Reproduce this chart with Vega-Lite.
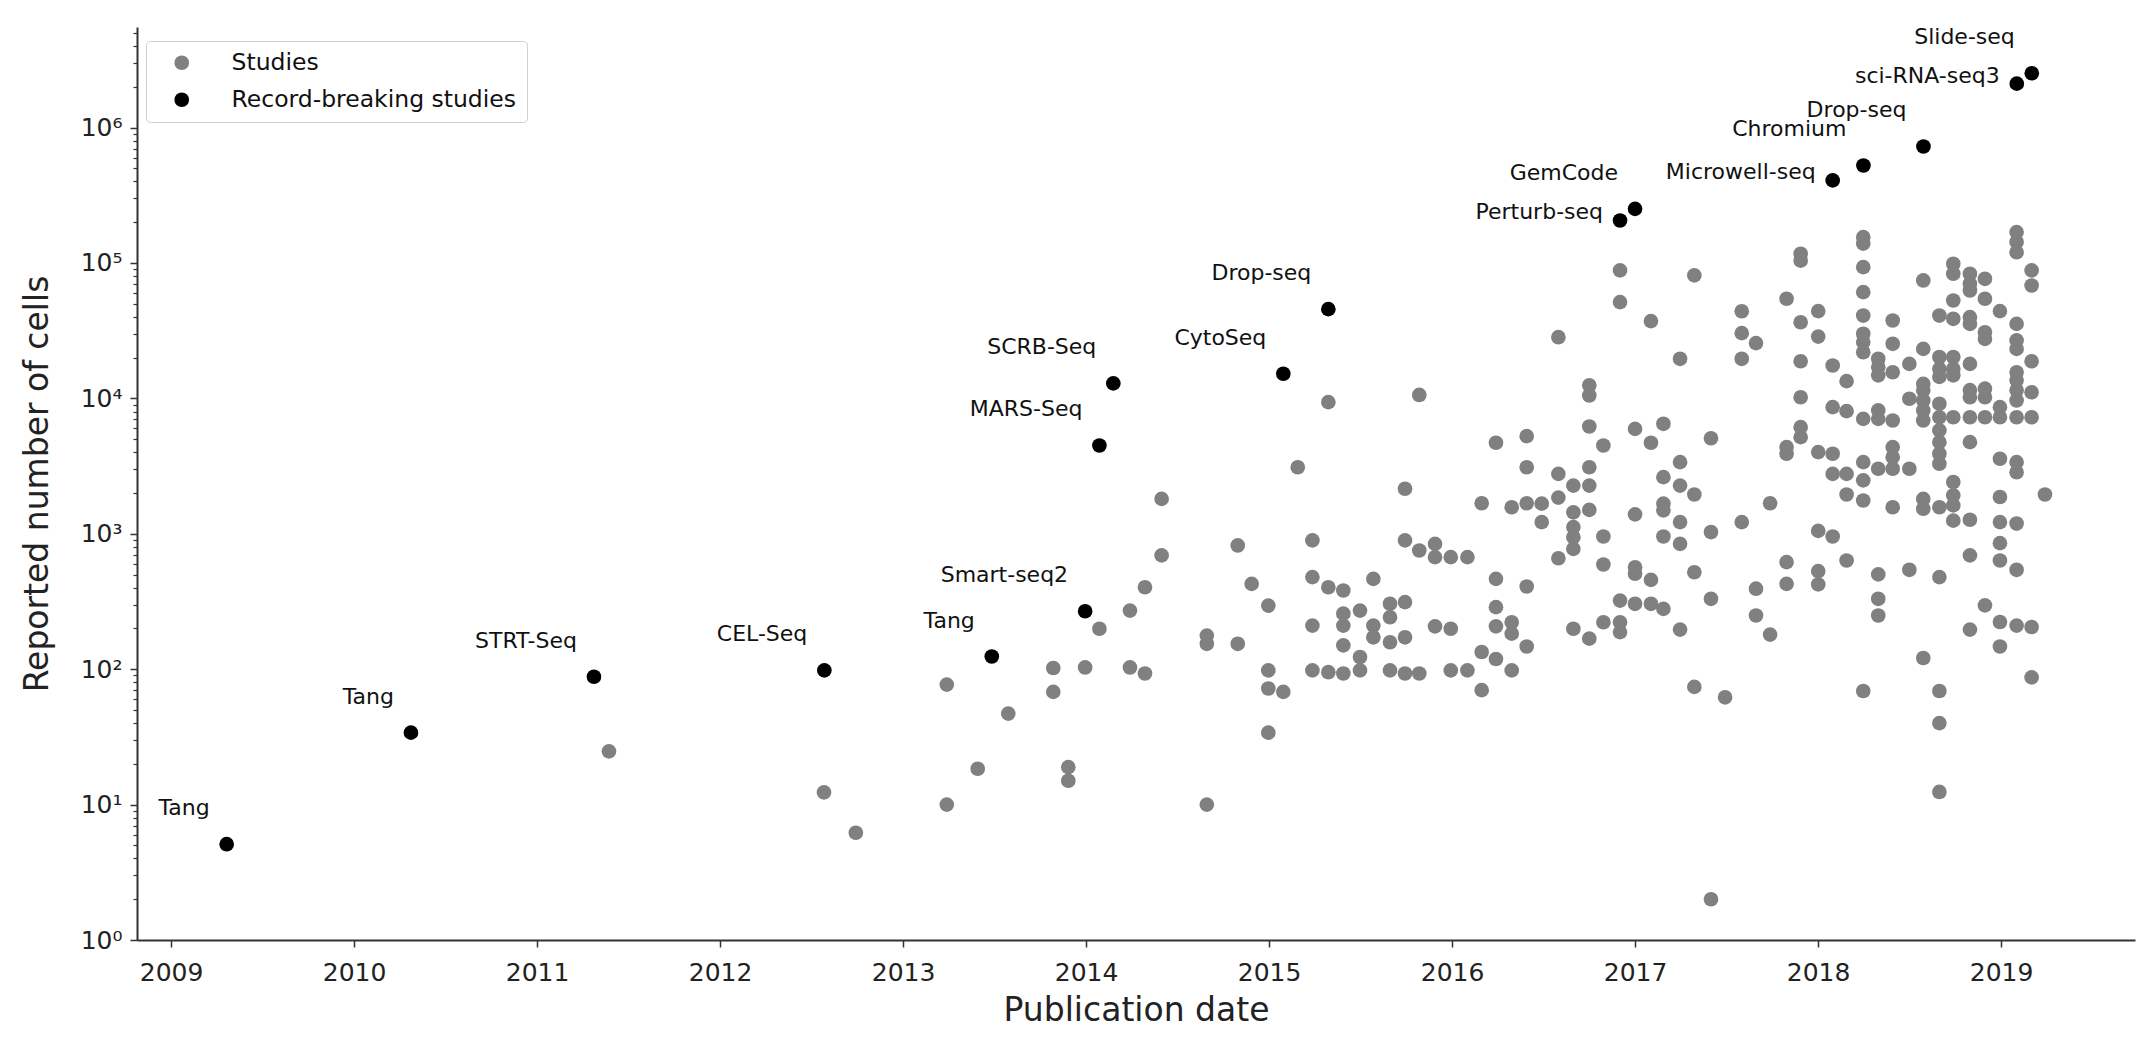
{
 "$schema": "https://vega.github.io/schema/vega-lite/v6.json",
 "width": 1998,
 "height": 913,
 "autosize": {"type": "none"},
 "padding": {"left": 137, "top": 27, "right": 6, "bottom": 101},
 "background": "white",
 "config": {"view": {"stroke": null}, "font": "DejaVu Sans"},
 "data": {"values": [
  {"date":2011.393,"cells":24.7,"kind":"Studies"},
  {"date":2012.568,"cells":12.3,"kind":"Studies"},
  {"date":2012.742,"cells":6.2,"kind":"Studies"},
  {"date":2013.239,"cells":77,"kind":"Studies"},
  {"date":2013.239,"cells":10,"kind":"Studies"},
  {"date":2013.408,"cells":18.4,"kind":"Studies"},
  {"date":2013.575,"cells":47,"kind":"Studies"},
  {"date":2013.821,"cells":102,"kind":"Studies"},
  {"date":2013.821,"cells":68,"kind":"Studies"},
  {"date":2013.903,"cells":18.9,"kind":"Studies"},
  {"date":2013.903,"cells":15,"kind":"Studies"},
  {"date":2015.324,"cells":9380,"kind":"Studies"},
  {"date":2015.821,"cells":10600,"kind":"Studies"},
  {"date":2015.157,"cells":3100,"kind":"Studies"},
  {"date":2015.743,"cells":2150,"kind":"Studies"},
  {"date":2014.413,"cells":1810,"kind":"Studies"},
  {"date":2014.413,"cells":692,"kind":"Studies"},
  {"date":2014.829,"cells":820,"kind":"Studies"},
  {"date":2015.237,"cells":893,"kind":"Studies"},
  {"date":2015.743,"cells":893,"kind":"Studies"},
  {"date":2015.821,"cells":753,"kind":"Studies"},
  {"date":2014.322,"cells":403,"kind":"Studies"},
  {"date":2014.905,"cells":427,"kind":"Studies"},
  {"date":2015.237,"cells":479,"kind":"Studies"},
  {"date":2015.324,"cells":403,"kind":"Studies"},
  {"date":2015.406,"cells":381,"kind":"Studies"},
  {"date":2015.570,"cells":465,"kind":"Studies"},
  {"date":2014.240,"cells":271,"kind":"Studies"},
  {"date":2014.073,"cells":199,"kind":"Studies"},
  {"date":2014.996,"cells":295,"kind":"Studies"},
  {"date":2015.406,"cells":257,"kind":"Studies"},
  {"date":2015.406,"cells":210,"kind":"Studies"},
  {"date":2015.406,"cells":150,"kind":"Studies"},
  {"date":2015.497,"cells":271,"kind":"Studies"},
  {"date":2015.661,"cells":304,"kind":"Studies"},
  {"date":2015.743,"cells":313,"kind":"Studies"},
  {"date":2015.661,"cells":242,"kind":"Studies"},
  {"date":2015.570,"cells":210,"kind":"Studies"},
  {"date":2015.570,"cells":172,"kind":"Studies"},
  {"date":2015.661,"cells":158,"kind":"Studies"},
  {"date":2015.743,"cells":172,"kind":"Studies"},
  {"date":2015.237,"cells":210,"kind":"Studies"},
  {"date":2014.660,"cells":177,"kind":"Studies"},
  {"date":2014.660,"cells":154,"kind":"Studies"},
  {"date":2014.829,"cells":154,"kind":"Studies"},
  {"date":2013.995,"cells":103,"kind":"Studies"},
  {"date":2014.240,"cells":103,"kind":"Studies"},
  {"date":2014.322,"cells":93,"kind":"Studies"},
  {"date":2014.996,"cells":98,"kind":"Studies"},
  {"date":2014.996,"cells":72,"kind":"Studies"},
  {"date":2015.078,"cells":68,"kind":"Studies"},
  {"date":2014.996,"cells":34,"kind":"Studies"},
  {"date":2014.660,"cells":10,"kind":"Studies"},
  {"date":2015.237,"cells":98,"kind":"Studies"},
  {"date":2015.324,"cells":95,"kind":"Studies"},
  {"date":2015.406,"cells":93,"kind":"Studies"},
  {"date":2015.497,"cells":98,"kind":"Studies"},
  {"date":2015.497,"cells":123,"kind":"Studies"},
  {"date":2015.661,"cells":98,"kind":"Studies"},
  {"date":2015.743,"cells":93,"kind":"Studies"},
  {"date":2015.821,"cells":93,"kind":"Studies"},
  {"date":2016.918,"cells":88100,"kind":"Studies"},
  {"date":2017.324,"cells":80900,"kind":"Studies"},
  {"date":2016.918,"cells":51400,"kind":"Studies"},
  {"date":2017.087,"cells":37200,"kind":"Studies"},
  {"date":2016.581,"cells":28300,"kind":"Studies"},
  {"date":2017.583,"cells":44000,"kind":"Studies"},
  {"date":2017.583,"cells":30300,"kind":"Studies"},
  {"date":2017.661,"cells":25600,"kind":"Studies"},
  {"date":2017.583,"cells":19600,"kind":"Studies"},
  {"date":2017.246,"cells":19600,"kind":"Studies"},
  {"date":2016.750,"cells":12500,"kind":"Studies"},
  {"date":2016.750,"cells":10500,"kind":"Studies"},
  {"date":2016.750,"cells":6200,"kind":"Studies"},
  {"date":2017.000,"cells":5960,"kind":"Studies"},
  {"date":2017.155,"cells":6490,"kind":"Studies"},
  {"date":2017.415,"cells":5080,"kind":"Studies"},
  {"date":2016.408,"cells":5260,"kind":"Studies"},
  {"date":2016.240,"cells":4700,"kind":"Studies"},
  {"date":2016.827,"cells":4490,"kind":"Studies"},
  {"date":2017.087,"cells":4700,"kind":"Studies"},
  {"date":2016.408,"cells":3100,"kind":"Studies"},
  {"date":2016.581,"cells":2770,"kind":"Studies"},
  {"date":2016.750,"cells":3100,"kind":"Studies"},
  {"date":2017.246,"cells":3380,"kind":"Studies"},
  {"date":2017.155,"cells":2620,"kind":"Studies"},
  {"date":2016.663,"cells":2270,"kind":"Studies"},
  {"date":2016.750,"cells":2270,"kind":"Studies"},
  {"date":2017.246,"cells":2270,"kind":"Studies"},
  {"date":2017.324,"cells":1950,"kind":"Studies"},
  {"date":2016.162,"cells":1680,"kind":"Studies"},
  {"date":2016.326,"cells":1570,"kind":"Studies"},
  {"date":2016.408,"cells":1680,"kind":"Studies"},
  {"date":2016.490,"cells":1670,"kind":"Studies"},
  {"date":2016.581,"cells":1850,"kind":"Studies"},
  {"date":2017.738,"cells":1680,"kind":"Studies"},
  {"date":2016.663,"cells":1440,"kind":"Studies"},
  {"date":2016.750,"cells":1500,"kind":"Studies"},
  {"date":2016.490,"cells":1220,"kind":"Studies"},
  {"date":2017.000,"cells":1390,"kind":"Studies"},
  {"date":2017.155,"cells":1670,"kind":"Studies"},
  {"date":2017.155,"cells":1490,"kind":"Studies"},
  {"date":2017.246,"cells":1220,"kind":"Studies"},
  {"date":2017.155,"cells":955,"kind":"Studies"},
  {"date":2017.246,"cells":843,"kind":"Studies"},
  {"date":2017.415,"cells":1030,"kind":"Studies"},
  {"date":2017.583,"cells":1220,"kind":"Studies"},
  {"date":2016.663,"cells":1120,"kind":"Studies"},
  {"date":2016.663,"cells":944,"kind":"Studies"},
  {"date":2016.663,"cells":774,"kind":"Studies"},
  {"date":2016.827,"cells":955,"kind":"Studies"},
  {"date":2016.581,"cells":660,"kind":"Studies"},
  {"date":2015.907,"cells":843,"kind":"Studies"},
  {"date":2015.907,"cells":672,"kind":"Studies"},
  {"date":2015.993,"cells":672,"kind":"Studies"},
  {"date":2016.084,"cells":672,"kind":"Studies"},
  {"date":2016.827,"cells":593,"kind":"Studies"},
  {"date":2017.000,"cells":566,"kind":"Studies"},
  {"date":2017.000,"cells":507,"kind":"Studies"},
  {"date":2017.087,"cells":457,"kind":"Studies"},
  {"date":2017.324,"cells":520,"kind":"Studies"},
  {"date":2016.240,"cells":465,"kind":"Studies"},
  {"date":2016.408,"cells":408,"kind":"Studies"},
  {"date":2017.661,"cells":393,"kind":"Studies"},
  {"date":2017.415,"cells":331,"kind":"Studies"},
  {"date":2016.918,"cells":321,"kind":"Studies"},
  {"date":2017.000,"cells":304,"kind":"Studies"},
  {"date":2017.087,"cells":304,"kind":"Studies"},
  {"date":2017.155,"cells":279,"kind":"Studies"},
  {"date":2016.240,"cells":287,"kind":"Studies"},
  {"date":2017.661,"cells":249,"kind":"Studies"},
  {"date":2017.738,"cells":180,"kind":"Studies"},
  {"date":2015.907,"cells":207,"kind":"Studies"},
  {"date":2015.993,"cells":199,"kind":"Studies"},
  {"date":2016.240,"cells":207,"kind":"Studies"},
  {"date":2016.326,"cells":222,"kind":"Studies"},
  {"date":2016.326,"cells":183,"kind":"Studies"},
  {"date":2016.408,"cells":147,"kind":"Studies"},
  {"date":2016.663,"cells":199,"kind":"Studies"},
  {"date":2016.750,"cells":168,"kind":"Studies"},
  {"date":2016.827,"cells":222,"kind":"Studies"},
  {"date":2016.918,"cells":222,"kind":"Studies"},
  {"date":2016.918,"cells":188,"kind":"Studies"},
  {"date":2017.246,"cells":196,"kind":"Studies"},
  {"date":2016.162,"cells":134,"kind":"Studies"},
  {"date":2016.240,"cells":119,"kind":"Studies"},
  {"date":2016.326,"cells":98,"kind":"Studies"},
  {"date":2015.993,"cells":98,"kind":"Studies"},
  {"date":2016.084,"cells":98,"kind":"Studies"},
  {"date":2016.162,"cells":70,"kind":"Studies"},
  {"date":2017.324,"cells":74,"kind":"Studies"},
  {"date":2017.492,"cells":62,"kind":"Studies"},
  {"date":2017.415,"cells":2.0,"kind":"Studies"},
  {"date":2019.085,"cells":169000,"kind":"Studies"},
  {"date":2019.085,"cells":143000,"kind":"Studies"},
  {"date":2019.085,"cells":120000,"kind":"Studies"},
  {"date":2018.247,"cells":155000,"kind":"Studies"},
  {"date":2018.247,"cells":139000,"kind":"Studies"},
  {"date":2017.905,"cells":117000,"kind":"Studies"},
  {"date":2017.905,"cells":104000,"kind":"Studies"},
  {"date":2018.247,"cells":93100,"kind":"Studies"},
  {"date":2019.167,"cells":88100,"kind":"Studies"},
  {"date":2019.167,"cells":68200,"kind":"Studies"},
  {"date":2018.739,"cells":98600,"kind":"Studies"},
  {"date":2018.739,"cells":83200,"kind":"Studies"},
  {"date":2018.830,"cells":83200,"kind":"Studies"},
  {"date":2018.830,"cells":70200,"kind":"Studies"},
  {"date":2018.830,"cells":62600,"kind":"Studies"},
  {"date":2018.912,"cells":76400,"kind":"Studies"},
  {"date":2018.575,"cells":74300,"kind":"Studies"},
  {"date":2018.247,"cells":60900,"kind":"Studies"},
  {"date":2017.828,"cells":54400,"kind":"Studies"},
  {"date":2018.739,"cells":52800,"kind":"Studies"},
  {"date":2018.912,"cells":54400,"kind":"Studies"},
  {"date":2018.001,"cells":44100,"kind":"Studies"},
  {"date":2018.994,"cells":44100,"kind":"Studies"},
  {"date":2017.905,"cells":36500,"kind":"Studies"},
  {"date":2018.247,"cells":40900,"kind":"Studies"},
  {"date":2018.408,"cells":37600,"kind":"Studies"},
  {"date":2018.663,"cells":40900,"kind":"Studies"},
  {"date":2018.739,"cells":38700,"kind":"Studies"},
  {"date":2018.830,"cells":39800,"kind":"Studies"},
  {"date":2018.830,"cells":35500,"kind":"Studies"},
  {"date":2019.085,"cells":35500,"kind":"Studies"},
  {"date":2018.912,"cells":30800,"kind":"Studies"},
  {"date":2018.912,"cells":27500,"kind":"Studies"},
  {"date":2018.001,"cells":28600,"kind":"Studies"},
  {"date":2018.247,"cells":30000,"kind":"Studies"},
  {"date":2019.085,"cells":26800,"kind":"Studies"},
  {"date":2019.085,"cells":23200,"kind":"Studies"},
  {"date":2018.408,"cells":25300,"kind":"Studies"},
  {"date":2018.247,"cells":26000,"kind":"Studies"},
  {"date":2018.247,"cells":21900,"kind":"Studies"},
  {"date":2018.575,"cells":23200,"kind":"Studies"},
  {"date":2017.905,"cells":18800,"kind":"Studies"},
  {"date":2018.329,"cells":19600,"kind":"Studies"},
  {"date":2018.080,"cells":17500,"kind":"Studies"},
  {"date":2018.499,"cells":18000,"kind":"Studies"},
  {"date":2018.663,"cells":20200,"kind":"Studies"},
  {"date":2018.739,"cells":20200,"kind":"Studies"},
  {"date":2018.663,"cells":16500,"kind":"Studies"},
  {"date":2018.739,"cells":16500,"kind":"Studies"},
  {"date":2018.663,"cells":14400,"kind":"Studies"},
  {"date":2018.739,"cells":14800,"kind":"Studies"},
  {"date":2018.830,"cells":18000,"kind":"Studies"},
  {"date":2019.167,"cells":18800,"kind":"Studies"},
  {"date":2018.329,"cells":17000,"kind":"Studies"},
  {"date":2018.329,"cells":14800,"kind":"Studies"},
  {"date":2018.408,"cells":15600,"kind":"Studies"},
  {"date":2018.156,"cells":13400,"kind":"Studies"},
  {"date":2019.085,"cells":15600,"kind":"Studies"},
  {"date":2019.085,"cells":13600,"kind":"Studies"},
  {"date":2018.575,"cells":12800,"kind":"Studies"},
  {"date":2018.575,"cells":11500,"kind":"Studies"},
  {"date":2018.575,"cells":9650,"kind":"Studies"},
  {"date":2018.575,"cells":8140,"kind":"Studies"},
  {"date":2018.575,"cells":6870,"kind":"Studies"},
  {"date":2018.499,"cells":9930,"kind":"Studies"},
  {"date":2017.905,"cells":10200,"kind":"Studies"},
  {"date":2018.830,"cells":11500,"kind":"Studies"},
  {"date":2018.912,"cells":11800,"kind":"Studies"},
  {"date":2018.912,"cells":10200,"kind":"Studies"},
  {"date":2018.830,"cells":10200,"kind":"Studies"},
  {"date":2019.167,"cells":11100,"kind":"Studies"},
  {"date":2019.085,"cells":11500,"kind":"Studies"},
  {"date":2019.085,"cells":9650,"kind":"Studies"},
  {"date":2018.080,"cells":8610,"kind":"Studies"},
  {"date":2018.156,"cells":8050,"kind":"Studies"},
  {"date":2018.994,"cells":8610,"kind":"Studies"},
  {"date":2018.994,"cells":7260,"kind":"Studies"},
  {"date":2018.663,"cells":9120,"kind":"Studies"},
  {"date":2018.247,"cells":7060,"kind":"Studies"},
  {"date":2018.329,"cells":8150,"kind":"Studies"},
  {"date":2018.329,"cells":7060,"kind":"Studies"},
  {"date":2018.408,"cells":6870,"kind":"Studies"},
  {"date":2018.663,"cells":7260,"kind":"Studies"},
  {"date":2018.739,"cells":7260,"kind":"Studies"},
  {"date":2018.830,"cells":7260,"kind":"Studies"},
  {"date":2018.912,"cells":7260,"kind":"Studies"},
  {"date":2019.085,"cells":7260,"kind":"Studies"},
  {"date":2019.167,"cells":7260,"kind":"Studies"},
  {"date":2018.663,"cells":5800,"kind":"Studies"},
  {"date":2018.663,"cells":4750,"kind":"Studies"},
  {"date":2018.663,"cells":3900,"kind":"Studies"},
  {"date":2018.663,"cells":3290,"kind":"Studies"},
  {"date":2017.905,"cells":6130,"kind":"Studies"},
  {"date":2017.905,"cells":5170,"kind":"Studies"},
  {"date":2017.828,"cells":4370,"kind":"Studies"},
  {"date":2017.828,"cells":3900,"kind":"Studies"},
  {"date":2018.830,"cells":4750,"kind":"Studies"},
  {"date":2018.001,"cells":4010,"kind":"Studies"},
  {"date":2018.080,"cells":3900,"kind":"Studies"},
  {"date":2018.408,"cells":4370,"kind":"Studies"},
  {"date":2018.408,"cells":3680,"kind":"Studies"},
  {"date":2018.408,"cells":3020,"kind":"Studies"},
  {"date":2018.247,"cells":3380,"kind":"Studies"},
  {"date":2018.329,"cells":3020,"kind":"Studies"},
  {"date":2018.499,"cells":3020,"kind":"Studies"},
  {"date":2018.080,"cells":2770,"kind":"Studies"},
  {"date":2018.156,"cells":2770,"kind":"Studies"},
  {"date":2018.247,"cells":2480,"kind":"Studies"},
  {"date":2018.994,"cells":3580,"kind":"Studies"},
  {"date":2019.085,"cells":3380,"kind":"Studies"},
  {"date":2019.085,"cells":2850,"kind":"Studies"},
  {"date":2018.739,"cells":2410,"kind":"Studies"},
  {"date":2018.156,"cells":1950,"kind":"Studies"},
  {"date":2018.247,"cells":1760,"kind":"Studies"},
  {"date":2018.408,"cells":1570,"kind":"Studies"},
  {"date":2018.575,"cells":1810,"kind":"Studies"},
  {"date":2018.575,"cells":1530,"kind":"Studies"},
  {"date":2018.663,"cells":1570,"kind":"Studies"},
  {"date":2018.739,"cells":1920,"kind":"Studies"},
  {"date":2018.739,"cells":1620,"kind":"Studies"},
  {"date":2018.739,"cells":1250,"kind":"Studies"},
  {"date":2018.830,"cells":1270,"kind":"Studies"},
  {"date":2018.994,"cells":1870,"kind":"Studies"},
  {"date":2018.994,"cells":1220,"kind":"Studies"},
  {"date":2019.085,"cells":1190,"kind":"Studies"},
  {"date":2019.240,"cells":1950,"kind":"Studies"},
  {"date":2018.001,"cells":1050,"kind":"Studies"},
  {"date":2018.080,"cells":955,"kind":"Studies"},
  {"date":2018.994,"cells":853,"kind":"Studies"},
  {"date":2018.994,"cells":635,"kind":"Studies"},
  {"date":2018.830,"cells":692,"kind":"Studies"},
  {"date":2019.085,"cells":542,"kind":"Studies"},
  {"date":2017.828,"cells":618,"kind":"Studies"},
  {"date":2017.828,"cells":427,"kind":"Studies"},
  {"date":2018.001,"cells":530,"kind":"Studies"},
  {"date":2018.001,"cells":423,"kind":"Studies"},
  {"date":2018.156,"cells":635,"kind":"Studies"},
  {"date":2018.329,"cells":501,"kind":"Studies"},
  {"date":2018.499,"cells":542,"kind":"Studies"},
  {"date":2018.663,"cells":479,"kind":"Studies"},
  {"date":2018.329,"cells":331,"kind":"Studies"},
  {"date":2018.329,"cells":249,"kind":"Studies"},
  {"date":2018.912,"cells":296,"kind":"Studies"},
  {"date":2018.830,"cells":196,"kind":"Studies"},
  {"date":2018.994,"cells":223,"kind":"Studies"},
  {"date":2019.085,"cells":210,"kind":"Studies"},
  {"date":2019.167,"cells":205,"kind":"Studies"},
  {"date":2018.994,"cells":147,"kind":"Studies"},
  {"date":2018.575,"cells":121,"kind":"Studies"},
  {"date":2019.167,"cells":87,"kind":"Studies"},
  {"date":2018.247,"cells":69,"kind":"Studies"},
  {"date":2018.663,"cells":69,"kind":"Studies"},
  {"date":2018.663,"cells":40,"kind":"Studies"},
  {"date":2018.663,"cells":12.4,"kind":"Studies"},
  {"date":2009.304,"cells":5.1,"kind":"Record-breaking studies","label":"Tang"},
  {"date":2010.311,"cells":34,"kind":"Record-breaking studies","label":"Tang"},
  {"date":2011.311,"cells":88,"kind":"Record-breaking studies","label":"STRT-Seq"},
  {"date":2012.570,"cells":98,"kind":"Record-breaking studies","label":"CEL-Seq"},
  {"date":2013.485,"cells":124,"kind":"Record-breaking studies","label":"Tang"},
  {"date":2013.995,"cells":268,"kind":"Record-breaking studies","label":"Smart-seq2"},
  {"date":2014.073,"cells":4490,"kind":"Record-breaking studies","label":"MARS-Seq"},
  {"date":2014.149,"cells":12900,"kind":"Record-breaking studies","label":"SCRB-Seq"},
  {"date":2015.078,"cells":15200,"kind":"Record-breaking studies","label":"CytoSeq"},
  {"date":2015.324,"cells":45600,"kind":"Record-breaking studies","label":"Drop-seq"},
  {"date":2016.918,"cells":206000,"kind":"Record-breaking studies","label":"Perturb-seq"},
  {"date":2017.000,"cells":251000,"kind":"Record-breaking studies","label":"GemCode"},
  {"date":2018.080,"cells":407000,"kind":"Record-breaking studies","label":"Microwell-seq"},
  {"date":2018.248,"cells":525000,"kind":"Record-breaking studies","label":"Chromium"},
  {"date":2018.576,"cells":725000,"kind":"Record-breaking studies","label":"Drop-seq"},
  {"date":2019.086,"cells":2110000,"kind":"Record-breaking studies","label":"sci-RNA-seq3"},
  {"date":2019.168,"cells":2520000,"kind":"Record-breaking studies","label":"Slide-seq"}
 ]},
 "encoding": {
  "x": {"field": "date", "type": "quantitative",
   "scale": {"domain": [2008.814, 2019.732], "nice": false, "zero": false},
   "axis": {"values": [2009,2010,2011,2012,2013,2014,2015,2016,2017,2018,2019], "format": "d",
    "title": "Publication date", "titleFontSize": 33, "titleFontWeight": "normal", "titleColor": "#222222",
    "labelFontSize": 25, "labelColor": "#222222", "labelPadding": 13, "titlePadding": 9,
    "tickSize": 7, "tickWidth": 1.5, "tickColor": "#333333", "domainColor": "#333333", "domainWidth": 2,
    "grid": false, "labelFlush": false}}
 },
 "layer": [
  {"mark": {"type": "circle", "opacity": 1, "size": 215},
   "encoding": {
    "y": {"field": "cells", "type": "quantitative",
     "scale": {"type": "log", "domain": [1, 5530000], "nice": false},
     "axis": {"orient": "left", "values": [1,10,100,1000,10000,100000,1000000],
      "labelExpr": "'10' + ['⁰','¹','²','³','⁴','⁵','⁶'][round(log(datum.value)/LN10)]",
      "title": "Reported number of cells", "titleFontSize": 33, "titleFontWeight": "normal", "titleColor": "#222222",
      "labelFontSize": 25, "labelColor": "#222222", "labelPadding": 8, "titlePadding": 26,
      "tickSize": 7, "tickWidth": 1.5, "tickColor": "#333333", "domainColor": "#333333", "domainWidth": 2,
      "grid": false}},
    "color": {"field": "kind", "type": "nominal",
     "scale": {"domain": ["Studies", "Record-breaking studies"], "range": ["#808080", "#000000"]},
     "legend": {"orient": "none", "legendX": 9, "legendY": 14, "title": null, "direction": "vertical",
      "fillColor": "white", "strokeColor": "#cfcfcf", "cornerRadius": 4, "padding": 10,
      "symbolOffset": 14, "symbolType": "circle", "symbolSize": 215, "symbolOpacity": 1, "symbolStrokeWidth": 0,
      "labelFontSize": 23.5, "labelOffset": 38, "labelLimit": 1000, "rowPadding": 12, "labelColor": "#111111"}}
   }},
  {"transform": [{"filter": "datum.label != null && indexof(['Perturb-seq','Microwell-seq','sci-RNA-seq3'], datum.label) < 0"}],
   "mark": {"type": "text", "align": "right", "baseline": "middle", "dx": -17, "dy": -36, "fontSize": 22, "color": "#111111"},
   "encoding": {
    "y": {"field": "cells", "type": "quantitative",
     "scale": {"type": "log", "domain": [1, 5530000], "nice": false},
     "axis": {"orient": "left", "values": [2,3,4,5,6,7,8,9,20,30,40,50,60,70,80,90,200,300,400,500,600,700,800,900,2000,3000,4000,5000,6000,7000,8000,9000,20000,30000,40000,50000,60000,70000,80000,90000,200000,300000,400000,500000,600000,700000,800000,900000,2000000,3000000,4000000,5000000],
      "labels": false, "domain": false, "tickSize": 4, "tickWidth": 1.2, "tickColor": "#333333", "title": null, "grid": false}},
    "text": {"field": "label"}
   }},
  {"transform": [{"filter": "indexof(['Perturb-seq','Microwell-seq','sci-RNA-seq3'], datum.label) >= 0"}],
   "mark": {"type": "text", "align": "right", "baseline": "middle", "dx": -17, "dy": -8, "fontSize": 22, "color": "#111111"},
   "encoding": {
    "y": {"field": "cells", "type": "quantitative",
     "scale": {"type": "log", "domain": [1, 5530000], "nice": false},
     "axis": null},
    "text": {"field": "label"}
   }}
 ],
 "resolve": {"axis": {"y": "independent"}}
}
